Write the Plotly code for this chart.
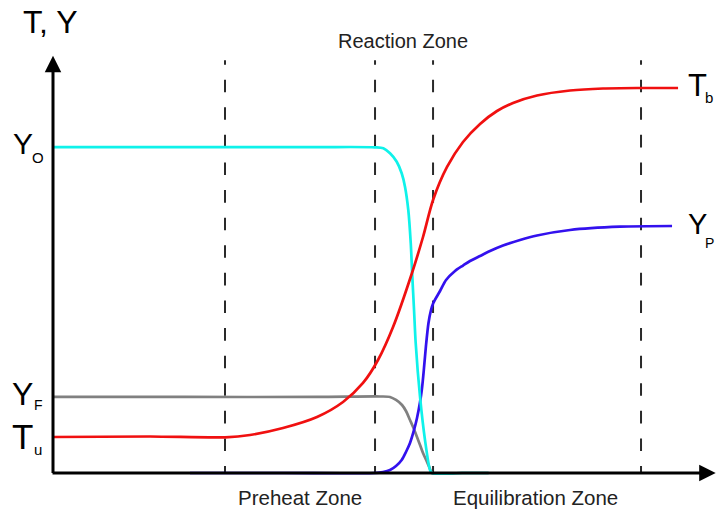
import plotly.graph_objects as go

# Schematic flame structure: position through the flame (x) vs temperature / mass fraction (y)

# zone boundaries along x
zone_bounds = [26.06, 48.79, 57.58, 89.09]
zone_top = 98.3

# oxidiser mass fraction Y_O
yo_x = [0, 20, 40, 48.79, 50.05, 51.06, 52.08, 52.83, 53.33, 53.83, 54.20, 54.44, 54.70, 54.95, 55.61, 56.36, 57.12, 57.42, 62, 66]
yo_y = [77.6, 77.6, 77.6, 77.55, 77.31, 76.12, 74.12, 71.36, 68.17, 62.62, 54.76, 46.74, 38.81, 30.95, 18.10, 7.86, 0.71, 0, 0, 0]

# temperature T
t_x = [0, 14.7, 26.06, 29.85, 34.85, 40.0, 43.94, 46.97, 49.24, 51.52, 54.39, 56.06, 57.58, 59.7, 62.12, 64.7, 67.27, 69.7, 73.33, 78.33, 83.33, 89.24, 94.7]
t_y = [8.57, 8.69, 8.5, 9.05, 10.71, 13.33, 16.9, 21.43, 26.9, 34.76, 47.62, 56.19, 65.0, 72.86, 78.81, 83.1, 86.19, 88.1, 89.88, 91.07, 91.55, 91.67, 91.67]

# product mass fraction Y_P
yp_x = [20.76, 35, 48.79, 50.0, 51.06, 51.97, 52.83, 53.48, 54.09, 54.70, 55.15, 55.61, 55.91, 56.21, 56.52, 56.89, 57.27, 57.62, 58.64, 59.55, 60.91, 62.12, 63.18, 64.70, 66.21, 68.18, 70.76, 73.33, 78.33, 85.91, 93.79]
yp_y = [0, 0, 0, 0.24, 0.71, 1.67, 3.1, 5.0, 7.14, 10.24, 13.1, 16.9, 20.24, 25.0, 30.48, 35.71, 38.81, 40.48, 43.33, 45.95, 48.1, 49.4, 50.48, 51.67, 52.86, 54.17, 55.48, 56.55, 57.86, 58.64, 58.81]

# fuel mass fraction Y_F
yf_x = [0, 20, 40, 49.55, 51.06, 51.97, 52.88, 53.48, 54.09, 54.62, 55.15, 55.61, 56.06, 56.67, 57.12, 57.42, 62, 66]
yf_y = [18.1, 18.1, 18.1, 18.21, 18.1, 17.38, 16.19, 14.76, 12.62, 10.71, 8.57, 6.67, 4.76, 2.62, 0.95, 0, 0, 0]

zone_names = ["Preheat Zone", "Reaction Zone", "Equilibration Zone"]

FONT = "Liberation Sans, Arial, sans-serif"
fig = go.Figure()

# dashed zone separators; first dash is shortened so the pattern lines up from the top
dash_pattern = ",".join(["4.5px", "15px"] + ["12.6px", "15px"] * 20)
for xb in zone_bounds:
    fig.add_trace(go.Scatter(x=[xb, xb], y=[zone_top, 0], mode="lines",
                             line=dict(color="#2a2a2a", width=2, dash=dash_pattern),
                             hoverinfo="skip"))

fig.add_trace(go.Scatter(x=yf_x, y=yf_y, mode="lines", line=dict(color="#808080", width=2.7, shape="spline", smoothing=0.8)))
fig.add_trace(go.Scatter(x=yp_x, y=yp_y, mode="lines", line=dict(color="#3311EE", width=2.7, shape="spline", smoothing=0.8)))
fig.add_trace(go.Scatter(x=yo_x, y=yo_y, mode="lines", line=dict(color="#0FF2EA", width=2.7, shape="spline", smoothing=0.8)))
fig.add_trace(go.Scatter(x=t_x, y=t_y, mode="lines", line=dict(color="#F01010", width=2.7, shape="spline", smoothing=0.8)))

ann = []
# axes with arrow heads
ann.append(dict(x=0, y=99.36, ax=0, ay=-0.36, xref="x", yref="y", axref="x", ayref="y",
                text="", showarrow=True, arrowhead=2, arrowsize=1.1, arrowwidth=3, arrowcolor="black"))
ann.append(dict(x=100.4, y=0, ax=-0.3, ay=0, xref="x", yref="y", axref="x", ayref="y",
                text="", showarrow=True, arrowhead=2, arrowsize=1.1, arrowwidth=3, arrowcolor="black"))

def label(x, y, text, size, anchor="left", color="black"):
    ann.append(dict(x=x, y=y, xref="x", yref="y", text=text, showarrow=False,
                    xanchor=anchor, yanchor="middle", borderpad=0,
                    font=dict(family=FONT, size=size, color=color)))

# axis title
label(-4.7, 107.5, "T, Y", 32)
# species / temperature labels with small subscripts
label(-6.2, 78.57, "Y", 30)
label(-3.4, 75.1, "O", 15)
label(-6.3, 18.69, "Y", 32)
label(-3.0, 16.19, "F", 14)
label(-6.3, 8.69, "T", 35)
label(-3.0, 5.71, "u", 15)
label(96.0, 92.26, "T", 31)
label(98.7, 89.29, "b", 15)
label(96.1, 59.4, "Y", 29)
label(98.6, 54.88, "P", 14)

# zone names
label(37.35, -5.95, zone_names[0], 20.5, anchor="center", color="#222222")
label(53.1, 102.9, zone_names[1], 20, anchor="center", color="#222222")
label(73.1, -5.95, zone_names[2], 20.5, anchor="center", color="#222222")

fig.update_layout(
    width=716, height=512,
    margin=dict(l=0, r=0, t=0, b=0),
    paper_bgcolor="white", plot_bgcolor="white",
    showlegend=False,
    xaxis=dict(range=[-8.03, 100.45], visible=False, fixedrange=True),
    yaxis=dict(range=[-9.29, 112.62], visible=False, fixedrange=True),
    annotations=ann,
)

fig.write_html("out.html")
